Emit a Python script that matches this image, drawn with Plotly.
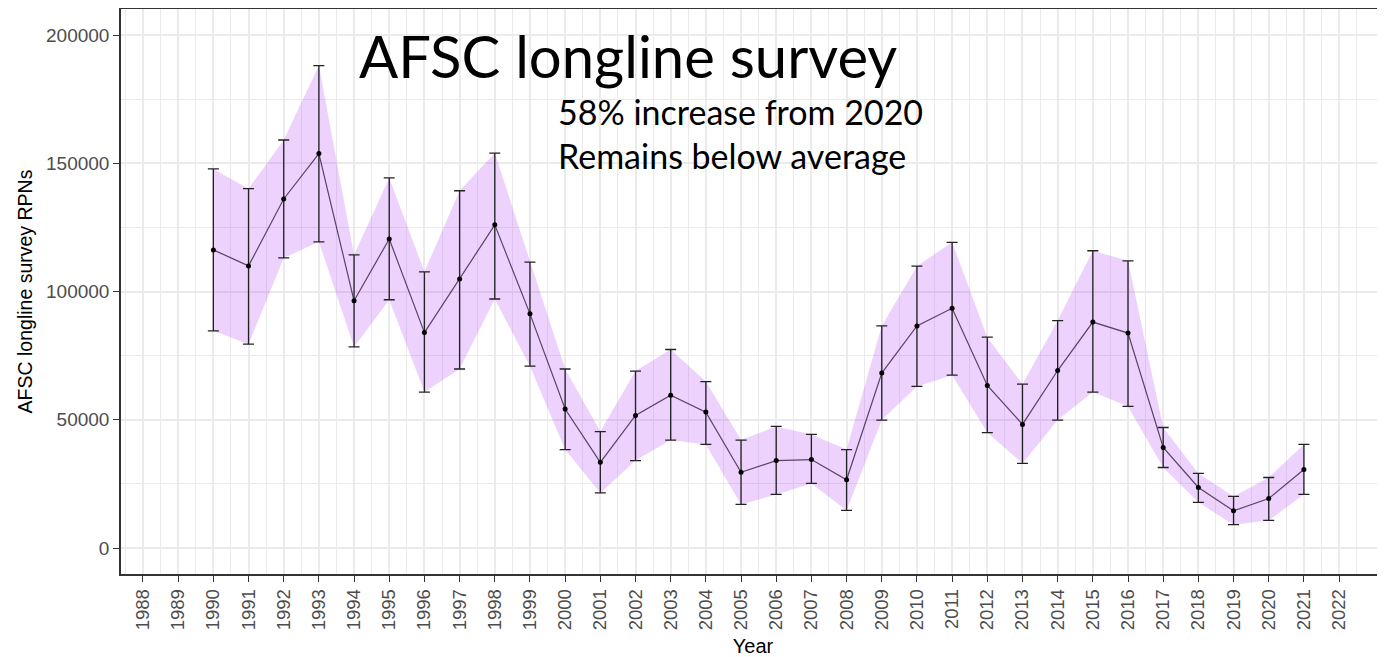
import plotly.graph_objects as go

years = list(range(1990, 2022))
rpn = [116250, 110000, 136100, 153800, 96400, 120500, 84000, 104900, 126000, 91300,
       54200, 33400, 51700, 59600, 53000, 29500, 34100, 34500, 26600, 68200,
       86600, 93500, 63400, 48200, 69200, 88100, 83800, 39200, 23600, 14500,
       19300, 30600]
upper = [147800, 140100, 159100, 188100, 114300, 144300, 107700, 139300, 154000, 111500,
         69800, 45400, 69000, 77400, 64900, 42100, 47400, 44300, 38400, 86600,
         109900, 119200, 82200, 63900, 88700, 115900, 112000, 47000, 29100, 20100,
         27500, 40400]
lower = [84700, 79500, 113100, 119400, 78400, 96800, 60800, 69800, 97100, 70900,
         38400, 21500, 34100, 42100, 40400, 17000, 20900, 25200, 14700, 49900,
         63000, 67400, 45000, 33000, 49900, 60800, 55200, 31400, 17800, 9100,
         10800, 20900]
tick_years = list(range(1988, 2023))
y_ticks = [0, 50000, 100000, 150000, 200000]

title_text = "AFSC longline survey"
sub1 = "58% increase from 2020"
sub2 = "Remains below average"

fig = go.Figure()
fig.add_trace(go.Scatter(x=years, y=lower, mode="lines", line=dict(width=0),
                         showlegend=False, hoverinfo="skip"))
fig.add_trace(go.Scatter(x=years, y=upper, mode="lines", line=dict(width=0),
                         fill="tonexty", fillcolor="rgba(160,32,240,0.2)",
                         showlegend=False, hoverinfo="skip"))
fig.add_trace(go.Scatter(
    x=years, y=rpn, mode="lines+markers",
    line=dict(color="rgba(40,20,50,0.75)", width=1.2),
    marker=dict(color="black", size=5),
    error_y=dict(type="data", symmetric=False,
                 array=[u - v for u, v in zip(upper, rpn)],
                 arrayminus=[v - l for v, l in zip(rpn, lower)],
                 color="#222222", thickness=1.3, width=5.5),
    showlegend=False))

ann_font = "Lato, Open Sans, sans-serif"
fig.add_annotation(text=title_text, xref="paper", yref="paper", x=0.1867, y=0.918,
                   xanchor="left", yanchor="middle", showarrow=False,
                   font=dict(family=ann_font, size=58, color="black"))
fig.add_annotation(text=sub1, xref="paper", yref="paper", x=0.3445, y=0.819,
                   xanchor="left", yanchor="middle", showarrow=False,
                   font=dict(family=ann_font, size=34, color="black"))
fig.add_annotation(text=sub2, xref="paper", yref="paper", x=0.3445, y=0.740,
                   xanchor="left", yanchor="middle", showarrow=False,
                   font=dict(family=ann_font, size=34, color="black"))

# the page body adds an 8px offset, so the figure is sized to end at the window edge
fig.update_layout(
    width=1377, height=649,
    margin=dict(l=113, r=0, t=1, b=83),
    paper_bgcolor="white", plot_bgcolor="white",
    font=dict(family="Liberation Sans, Arial, sans-serif"),
    xaxis=dict(
        range=[1987.375, 2023.305], tickmode="array", tickvals=tick_years,
        ticktext=[str(t) for t in tick_years], tickangle=-90, automargin=False,
        tickfont=dict(size=18.5, color="#4D4D4D"),
        ticks="outside", ticklen=6, tickcolor="#333333", tickwidth=1.3,
        showline=True, linecolor="#333333", linewidth=1.5, mirror=True,
        showgrid=True, gridcolor="#EBEBEB", gridwidth=1.8, zeroline=False,
        minor=dict(tick0=1987.5, dtick=1, showgrid=True, gridcolor="#EBEBEB", gridwidth=0.9),
        title=dict(text="Year", font=dict(size=20, color="black"), standoff=10),
    ),
    yaxis=dict(
        range=[-10130, 210170], tickmode="array", tickvals=y_ticks,
        ticktext=[str(t) for t in y_ticks], automargin=False,
        tickfont=dict(size=19, color="#4D4D4D"),
        ticks="outside", ticklen=6, tickcolor="#333333", tickwidth=1.3,
        showline=True, linecolor="#333333", linewidth=1.5,
        showgrid=True, gridcolor="#EBEBEB", gridwidth=1.8, zeroline=False,
        minor=dict(tick0=25000, dtick=50000, showgrid=True, gridcolor="#EBEBEB", gridwidth=0.9),
        title=dict(text="AFSC longline survey RPNs", font=dict(size=19.5, color="black"), standoff=8),
    ),
)

fig.write_html("out.html")
